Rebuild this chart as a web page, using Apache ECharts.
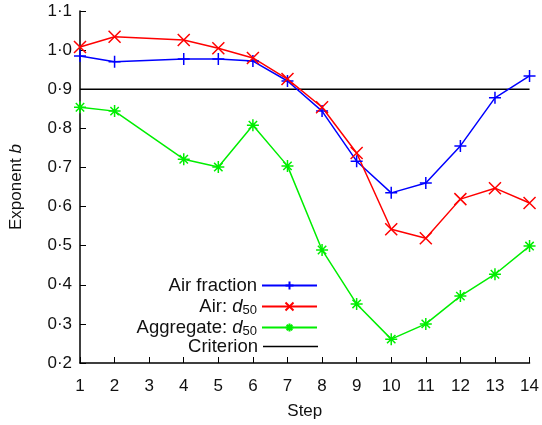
<!DOCTYPE html>
<html>
<head>
<meta charset="utf-8">
<script src="https://cdn.jsdelivr.net/npm/echarts@6/dist/echarts.min.js"></script>
<style>
  html, body { margin: 0; padding: 0; background: #fff; }
  #chart { width: 542px; height: 425px; }
</style>
</head>
<body>
<div id="chart"></div>
<script>
  // steps (step 3 is missing in the data)
  var steps = [1, 2, 4, 5, 6, 7, 8, 9, 10, 11, 12, 13, 14];
  var airFraction = [0.985, 0.970, 0.977, 0.977, 0.972, 0.921, 0.844, 0.716, 0.635, 0.660, 0.755, 0.878, 0.934];
  var airD50 = [1.008, 1.034, 1.026, 1.005, 0.980, 0.926, 0.854, 0.737, 0.542, 0.519, 0.619, 0.647, 0.609];
  var aggregateD50 = [0.854, 0.844, 0.721, 0.701, 0.808, 0.704, 0.489, 0.351, 0.261, 0.300, 0.371, 0.427, 0.499];
  var criterion = 0.9;

  var FONT = "Liberation Sans";
  var PLUS = "path://M5,0L5,10M0,5L10,5";
  var CROSS = "path://M0,0L10,10M10,0L0,10";
  var STAR = "path://M5,0L5,10M0,5L10,5M1.5,1.5L8.5,8.5M8.5,1.5L1.5,8.5";

  function pairs(vals) {
    return steps.map(function (s, i) { return [s, vals[i]]; });
  }

  function lineSeries(name, vals, color, symbol) {
    return {
      name: name,
      type: "line",
      data: pairs(vals),
      symbol: symbol,
      symbolSize: 12,
      showAllSymbol: true,
      lineStyle: { color: color, width: 1.5 },
      itemStyle: { color: color, borderColor: color, borderWidth: 1.5 },
      emphasis: { disabled: true },
      animation: false,
    };
  }

  var labels = {
    "Air fraction": "{t|Air fraction}",
    "Air: d50": "{t|Air: }{i|d}{s|50}",
    "Aggregate: d50": "{t|Aggregate: }{i|d}{s|50}",
    "Criterion": "{t|Criterion}",
  };

  var legendText = {
    rich: {
      t: { fontFamily: FONT, fontSize: 18.5, color: "#111", lineHeight: 18 },
      i: { fontFamily: FONT, fontSize: 18.5, fontStyle: "italic", color: "#111", lineHeight: 18 },
      s: { fontFamily: FONT, fontSize: 13, color: "#111", lineHeight: 18, padding: [8, 0, 0, 0] },
    },
  };

  // one legend per row so each row sits where it does in the picture
  var rowY = [285, 305, 326, 346];
  var names = ["Air fraction", "Air: d50", "Aggregate: d50", "Criterion"];
  var legends = names.map(function (n, k) {
    return {
      orient: "vertical",
      align: "right",
      right: 224,
      top: rowY[k] - 9,
      padding: 0,
      itemWidth: 55,
      itemHeight: n === "Criterion" ? 1.5 : 10,
      data: [n === "Criterion" ? { name: n, icon: "rect" } : n],
      formatter: function (name) { return labels[name]; },
      textStyle: legendText,
    };
  });

  var myChart = echarts.init(document.getElementById("chart"));
  var option = {
    backgroundColor: "#fff",
    textStyle: { fontFamily: FONT },
    grid: { left: 78, right: 11, top: 11, bottom: 62 },
    legend: legends,
    xAxis: {
      type: "value",
      min: 1,
      max: 14,
      interval: 1,
      name: "Step",
      nameLocation: "middle",
      nameGap: 40,
      nameTextStyle: { fontFamily: FONT, fontSize: 17, color: "#111" },
      axisLine: { lineStyle: { color: "#000", width: 1.5 } },
      axisTick: { inside: true, length: 6, lineStyle: { color: "#000", width: 1 } },
      axisLabel: { fontFamily: FONT, fontSize: 17, color: "#111", margin: 15 },
      splitLine: { show: false },
    },
    yAxis: {
      type: "value",
      min: 0.2,
      max: 1.1,
      interval: 0.1,
      name: "{t|Exponent }{i|b}",
      nameLocation: "middle",
      nameGap: 55,
      nameRotate: 90,
      nameTextStyle: {
        rich: {
          t: { fontFamily: FONT, fontSize: 17, color: "#111" },
          i: { fontFamily: FONT, fontSize: 17, fontStyle: "italic", color: "#111" },
        },
      },
      axisLine: { show: true, lineStyle: { color: "#000", width: 1.5 } },
      axisTick: { show: true, inside: true, length: 6, lineStyle: { color: "#000", width: 1 } },
      axisLabel: {
        fontFamily: FONT,
        fontSize: 17,
        color: "#111",
        margin: 8,
        formatter: function (v) { return v.toFixed(1).replace(".", "\u00b7"); },
      },
      splitLine: { show: false },
    },
    series: [
      lineSeries("Air fraction", airFraction, "#0000ff", PLUS),
      lineSeries("Air: d50", airD50, "#ff0000", CROSS),
      lineSeries("Aggregate: d50", aggregateD50, "#00ee00", STAR),
      {
        name: "Criterion",
        type: "line",
        data: [[1, criterion], [14, criterion]],
        symbol: "none",
        lineStyle: { color: "#000", width: 1.5 },
        itemStyle: { color: "#000" },
        z: 1,
        animation: false,
      },
    ],
  };

  myChart.setOption(option);
</script>
</body>
</html>
